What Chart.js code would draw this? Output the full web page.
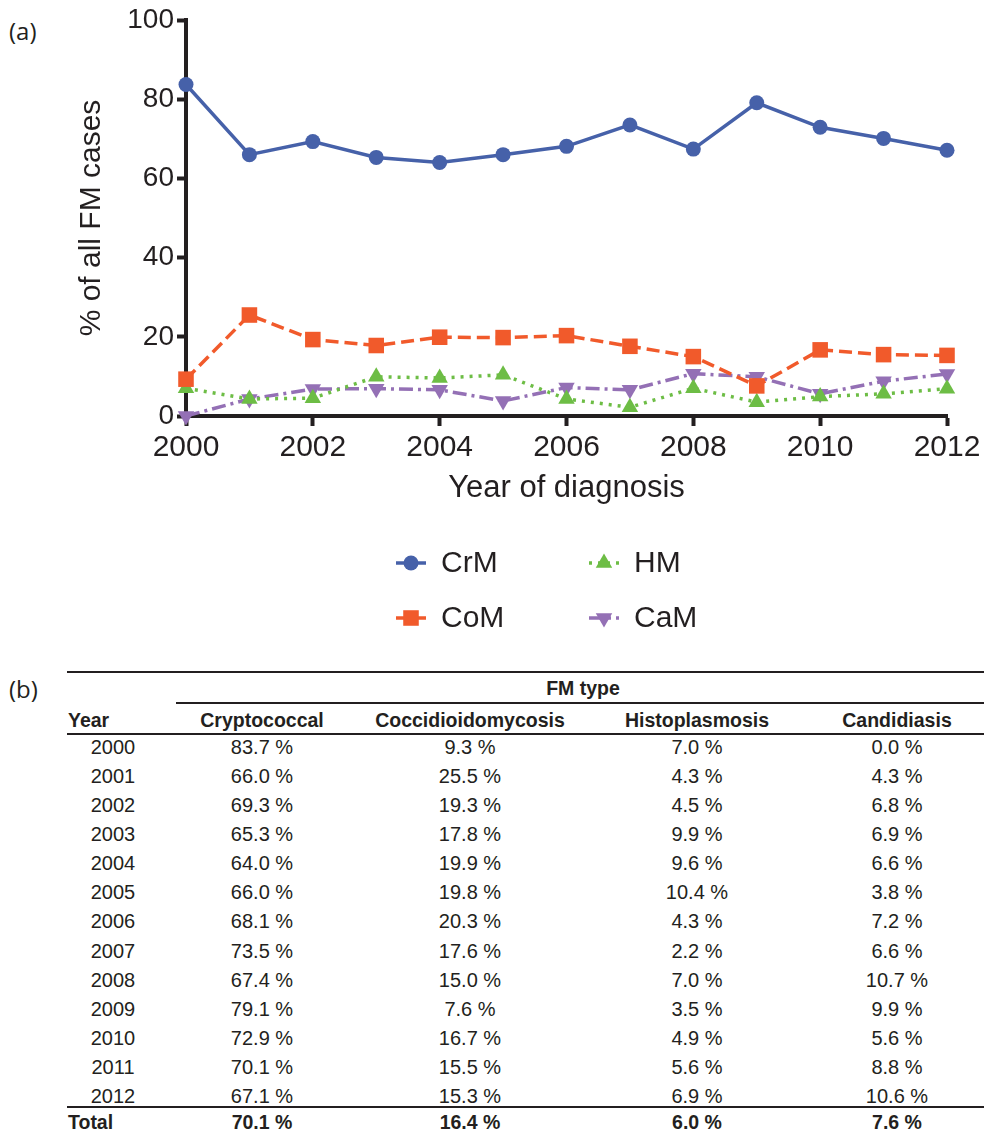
<!DOCTYPE html>
<html>
<head>
<meta charset="utf-8">
<script src="https://cdn.jsdelivr.net/npm/chart.js@4.4.1/dist/chart.umd.min.js"></script>
<style>
  html, body { margin: 0; padding: 0; background: #fff; }
  body { width: 984px; height: 1136px; position: relative; overflow: hidden;
         font-family: "Liberation Sans", Arial, Helvetica, sans-serif; color: #231f20; }
  #plot { position: absolute; left: 0; top: 0; width: 984px; height: 650px; }
  .panel { position: absolute; left: 9px; font-family: "Open Sans", sans-serif;
           font-size: 24px; line-height: 30px; color: #231f20; }
  .cell { position: absolute; white-space: nowrap; font-size: 20px; line-height: 24px; }
  .cell.mid { transform: translate(-50%, -50%); }
  .cell.left { transform: translate(0, -50%); }
  .cell.b { font-weight: bold; font-size: 19.5px; }
  .rule { position: absolute; height: 1.5px; background: #231f20; }
</style>
</head>
<body>
<div class="panel" style="top:16px">(a)</div>
<div id="plot"><canvas id="c" width="984" height="650"></canvas></div>
<div class="panel" style="top:674px">(b)</div>
<div id="tbl"></div>

<script>
// Share of each fungal meningitis (FM) type among all FM cases, by year of diagnosis
const years = [2000, 2001, 2002, 2003, 2004, 2005, 2006, 2007, 2008, 2009, 2010, 2011, 2012];
const crmPct = [83.7, 66.0, 69.3, 65.3, 64.0, 66.0, 68.1, 73.5, 67.4, 79.1, 72.9, 70.1, 67.1];
const comPct = [9.3, 25.5, 19.3, 17.8, 19.9, 19.8, 20.3, 17.6, 15.0, 7.6, 16.7, 15.5, 15.3];
const hmPct  = [7.0, 4.3, 4.5, 9.9, 9.6, 10.4, 4.3, 2.2, 7.0, 3.5, 4.9, 5.6, 6.9];
const camPct = [0.0, 4.3, 6.8, 6.9, 6.6, 3.8, 7.2, 6.6, 10.7, 9.9, 5.6, 8.8, 10.6];
const totalPct = [70.1, 16.4, 6.0, 7.6];

const seriesLabels = ['CrM', 'CoM', 'HM', 'CaM'];
const fmTypes = ['Cryptococcal', 'Coccidioidomycosis', 'Histoplasmosis', 'Candidiasis'];
const yTickRange = { min: 0, max: 100, step: 20 };
const xTickRange = { min: 2000, max: 2012, step: 2 };

const ink = '#231f20';
const sans = "'Liberation Sans', Arial, Helvetica, sans-serif";
Chart.defaults.font.family = sans;
Chart.defaults.color = ink;

const toPoints = vals => years.map((yr, i) => ({ x: yr, y: vals[i] }));

function series(label, vals, color, style, extra) {
  return Object.assign({
    label, data: toPoints(vals),
    borderColor: color, backgroundColor: color,
    borderWidth: 3.5, pointBorderWidth: 0,
    pointBackgroundColor: color, pointStyle: style,
    tension: 0, clip: false
  }, extra);
}

const datasets = [
  series(seriesLabels[0], crmPct, '#4661a9', 'circle', { pointRadius: 7.5 }),
  series(seriesLabels[1], comPct, '#f15a2b', 'rect', { pointRadius: 11, borderDash: [13, 6] }),
  series(seriesLabels[2], hmPct, '#6dbd45', 'triangle', { pointRadius: 9.5, borderDash: [3, 6] }),
  series(seriesLabels[3], camPct, '#9470b5', 'triangle', { pointRadius: 9.5, pointRotation: 180, borderDash: [14, 5, 3, 5] })
];

// Two-column legend drawn beneath the plot
const gridLegend = {
  id: 'gridLegend',
  afterDraw(chart) {
    const ctx = chart.ctx;
    const slots = [[0, 0], [0, 1], [1, 0], [1, 1]]; // [column, row] per dataset
    const sampleX = [411, 604], textX = [441, 634], rowY = [563, 618];
    chart.data.datasets.forEach((ds, i) => {
      const [col, row] = slots[i];
      const cx = sampleX[col], cy = rowY[row];
      ctx.save();
      ctx.strokeStyle = ds.borderColor;
      ctx.lineWidth = ds.borderWidth;
      ctx.setLineDash(ds.borderDash || []);
      ctx.beginPath();
      ctx.moveTo(cx - 15, cy);
      ctx.lineTo(cx + 15, cy);
      ctx.stroke();
      ctx.setLineDash([]);
      ctx.fillStyle = ds.pointBackgroundColor;
      ctx.strokeStyle = ds.pointBackgroundColor;
      Chart.helpers.drawPoint(ctx, {
        pointStyle: ds.pointStyle, rotation: ds.pointRotation || 0,
        radius: ds.pointRadius, borderWidth: 0
      }, cx, cy);
      ctx.fillStyle = ink;
      ctx.font = '30px ' + sans;
      ctx.textAlign = 'left';
      ctx.textBaseline = 'middle';
      ctx.fillText(ds.label, textX[col], cy + 1);
      ctx.restore();
    });
  }
};

new Chart(document.getElementById('c'), {
  type: 'line',
  data: { datasets },
  options: {
    responsive: false,
    animation: false,
    layout: { padding: { left: 0, top: 20, right: 37, bottom: 134 } },
    plugins: { legend: { display: false }, tooltip: { enabled: false } },
    scales: {
      x: {
        type: 'linear', min: xTickRange.min, max: xTickRange.max,
        ticks: { stepSize: xTickRange.step, font: { size: 30 }, color: ink, padding: 4,
                 callback: v => String(v) },
        grid: { drawOnChartArea: false, tickLength: 10, tickWidth: 4, tickColor: ink },
        border: { color: ink, width: 4 },
        title: { display: true, text: 'Year of diagnosis', color: ink,
                 font: { size: 31 }, padding: { top: 0, bottom: 9 } },
        afterFit(s) { s.height = 100; s.paddingLeft = 0; s.paddingRight = 0; }
      },
      y: {
        min: yTickRange.min, max: yTickRange.max,
        ticks: { stepSize: yTickRange.step, font: { size: 28 }, color: ink, padding: 3 },
        grid: { drawOnChartArea: false, tickLength: 9, tickWidth: 4, tickColor: ink },
        border: { color: ink, width: 4 },
        title: { display: true, text: '% of all FM cases', color: ink,
                 font: { size: 30 }, padding: { top: 74, bottom: 0 } },
        afterFit(s) { s.width = 186; s.paddingTop = 0; s.paddingBottom = 0; }
      }
    }
  },
  plugins: [gridLegend]
});

// Table of the same percentages
(function buildTable() {
  const host = document.getElementById('tbl');
  const colX = [113, 262, 470, 697, 897];
  const fmt = v => v.toFixed(1) + ' %';
  function cell(text, x, y, cls) {
    const d = document.createElement('div');
    d.className = 'cell ' + cls;
    d.style.left = x + 'px';
    d.style.top = y + 'px';
    d.textContent = text;
    host.appendChild(d);
  }
  function rule(x1, x2, y) {
    const d = document.createElement('div');
    d.className = 'rule';
    d.style.left = x1 + 'px';
    d.style.width = (x2 - x1) + 'px';
    d.style.top = y + 'px';
    host.appendChild(d);
  }
  rule(67, 984, 671);
  cell('FM type', 583, 688, 'mid b');
  rule(176, 984, 702);
  cell('Year', 68, 720, 'left b');
  fmTypes.forEach((t, j) => cell(t, colX[j + 1], 720, 'mid b'));
  rule(67, 984, 733);
  const cols = [crmPct, comPct, hmPct, camPct];
  years.forEach((yr, i) => {
    const y = 747 + i * 29.08;
    cell(String(yr), colX[0], y, 'mid');
    cols.forEach((c, j) => cell(fmt(c[i]), colX[j + 1], y, 'mid'));
  });
  rule(67, 984, 1106);
  cell('Total', 68, 1122, 'left b');
  totalPct.forEach((v, j) => cell(fmt(v), colX[j + 1], 1122, 'mid b'));
})();
</script>
</body>
</html>
